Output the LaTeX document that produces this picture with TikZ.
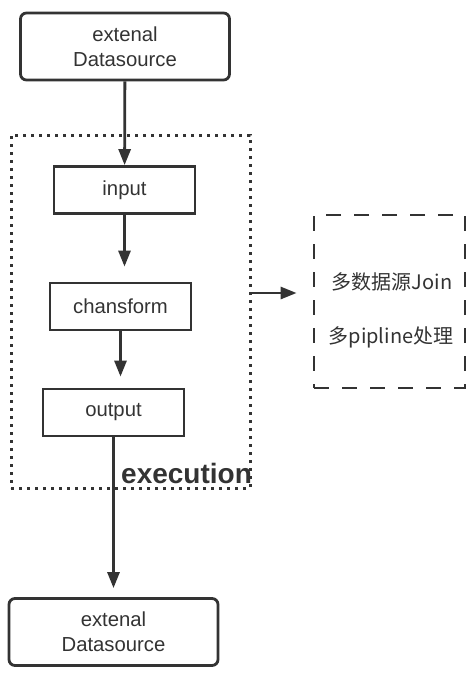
\documentclass[tikz,border=0pt]{standalone}
\usepackage{fontspec}
\setmainfont{Liberation Sans}
\newfontfamily\cjk{Noto Sans CJK SC}
\usetikzlibrary{arrows.meta}
\definecolor{ink}{HTML}{333333}
\begin{document}
\begin{tikzpicture}[x=1pt,y=-1pt,
  box/.style={draw=ink,line width=2.8pt,minimum width=141pt,minimum height=47pt,inner sep=0pt,
    align=center,text=ink,font=\fontsize{20.3}{25}\selectfont},
  dsbox/.style={box,rounded corners=6pt,minimum width=209pt,minimum height=67pt},
  flow/.style={draw=ink,line width=2.8pt,-{Triangle[length=16pt,width=12pt]}},
  note/.style={text=ink,font=\cjk\fontsize{20}{25}\selectfont}]
\useasboundingbox (0,0) rectangle (474,675);
\node[draw=ink,line width=3pt,dash pattern=on 3pt off 5pt,minimum width=239pt,minimum height=353pt] (exec) at (130.5,311.5) {};
\node[dsbox] (src) at (125,46.5) {extenal\\Datasource};
\node[box] (input) at (124.5,190) {input};
\node[box] (trans) at (120.5,306.5) {chansform};
\node[box] (output) at (113.5,412.5) {output};
\node[dsbox] (dst) at (113.5,632) {extenal\\Datasource};
\node[anchor=base west,inner sep=0pt,text=ink,font=\bfseries\fontsize{28}{32}\selectfont] (label) at (121,483) {execution};
\node[draw=ink,line width=2.8pt,dash pattern=on 15pt off 13pt,minimum width=151pt,minimum height=173pt] (multi) at (389.5,301.5) {};
\node[note] (join) at (392,282) {多数据源Join};
\node[note] (pipe) at (391,337) {多pipline处理};
\draw[flow] (src) -- (input);
\draw[flow,shorten >=15pt] (input.south) -- (input.south |- trans.north);
\draw[flow,shorten >=11pt] (trans.south) -- (trans.south |- output.north);
\draw[flow,shorten >=9pt] (output.south) -- (output.south |- dst.north);
\draw[flow,shorten >=16pt] (exec.east |- 0,293) -- (multi.west |- 0,293);
\end{tikzpicture}
\end{document}
